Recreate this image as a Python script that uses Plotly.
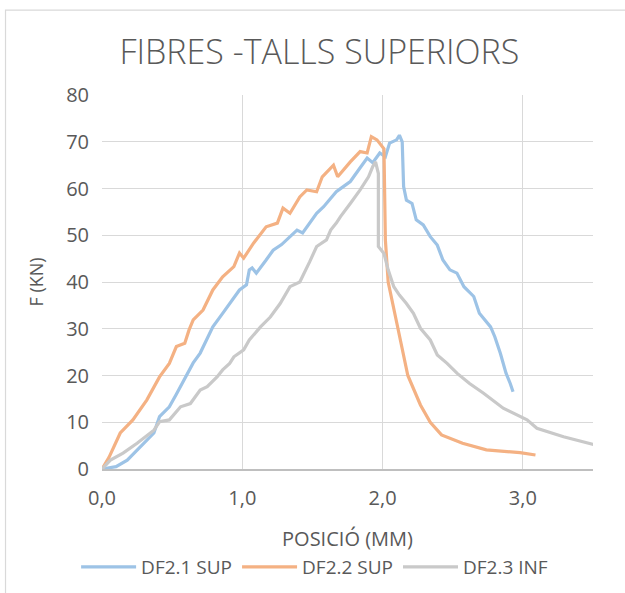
import plotly.graph_objects as go

# ---- data ----
blue_name = "DF2.1 SUP"
blue_x = [0, 0.10, 0.18, 0.25, 0.31, 0.37, 0.41, 0.48, 0.53, 0.56, 0.60, 0.65, 0.70, 0.75, 0.79, 0.86,
          0.91, 0.98, 1.03, 1.05, 1.07, 1.10, 1.17, 1.22, 1.28, 1.34, 1.39, 1.43, 1.48, 1.53, 1.58, 1.60,
          1.67, 1.72, 1.77, 1.83, 1.89, 1.93, 1.98, 2.02, 2.05, 2.10, 2.12, 2.14, 2.15, 2.17, 2.21, 2.24,
          2.29, 2.34, 2.39, 2.43, 2.48, 2.53, 2.58, 2.65, 2.69, 2.77, 2.80, 2.84, 2.88, 2.91, 2.93]
blue_y = [0, 0.5, 1.9, 4.1, 5.8, 7.7, 11.2, 13.3, 16.0, 17.6, 19.7, 22.7, 24.8, 28.0, 30.4, 33.3,
          35.5, 38.3, 39.4, 42.6, 43.0, 41.9, 44.7, 46.8, 48.0, 49.7, 51.1, 50.5, 52.6, 54.7, 56.1, 56.8,
          59.3, 60.4, 61.5, 64.0, 66.5, 65.5, 67.6, 66.8, 69.7, 70.4, 71.4, 70.0, 60.4, 57.5, 56.8, 53.3,
          52.2, 49.7, 47.9, 44.7, 42.6, 41.9, 39.0, 36.9, 33.3, 30.4, 28.3, 24.7, 20.5, 18.3, 16.5]

orange_name = "DF2.2 SUP"
orange_x = [0, 0.05, 0.13, 0.22, 0.32, 0.41, 0.48, 0.53, 0.59, 0.62, 0.65, 0.72, 0.79, 0.86, 0.94, 0.98,
            1.01, 1.08, 1.17, 1.25, 1.29, 1.34, 1.41, 1.46, 1.53, 1.57, 1.65, 1.68, 1.77, 1.84, 1.89, 1.92,
            1.96, 1.99, 2.01, 2.02, 2.04, 2.11, 2.18, 2.27, 2.34, 2.42, 2.57, 2.74, 2.98, 3.09]
orange_y = [0, 2.5, 7.7, 10.5, 14.8, 19.7, 22.6, 26.2, 26.9, 29.7, 31.9, 34.0, 38.3, 41.1, 43.3, 46.2,
            45.1, 48.3, 51.8, 52.6, 55.8, 54.7, 58.2, 59.7, 59.3, 62.5, 65.0, 62.5, 65.7, 67.9, 67.6, 71.1,
            70.4, 69.3, 68.5, 49.0, 40.0, 30.0, 20.0, 13.7, 10.0, 7.3, 5.5, 4.1, 3.5, 3.0]

gray_name = "DF2.3 INF"
gray_x = [0, 0.06, 0.15, 0.25, 0.37, 0.41, 0.48, 0.56, 0.63, 0.70, 0.75, 0.82, 0.86, 0.91, 0.94, 1.01,
          1.05, 1.13, 1.20, 1.27, 1.34, 1.41, 1.48, 1.53, 1.60, 1.63, 1.67, 1.70, 1.77, 1.84, 1.90, 1.93,
          1.95, 1.97, 1.97, 1.97, 2.01, 2.04, 2.08, 2.12, 2.17, 2.22, 2.27, 2.34, 2.39, 2.46, 2.53, 2.62,
          2.72, 2.86, 3.03, 3.10, 3.29, 3.52]
gray_y = [0, 1.9, 3.4, 5.5, 8.3, 10.1, 10.5, 13.3, 14.0, 16.9, 17.6, 19.7, 21.2, 22.6, 24.0, 25.5,
          27.6, 30.4, 32.5, 35.4, 39.0, 40.0, 44.3, 47.6, 49.0, 51.1, 52.6, 54.0, 56.8, 59.7, 62.5, 64.7,
          65.7, 63.2, 53.3, 47.6, 46.1, 42.6, 39.0, 37.2, 35.4, 33.3, 30.1, 27.6, 24.4, 22.6, 20.5, 18.3,
          16.2, 13.0, 10.5, 8.7, 6.9, 5.1]

x_tickvals = [0, 1, 2, 3]
x_ticktext = ["0,0", "1,0", "2,0", "3,0"]
y_tickvals = [0, 10, 20, 30, 40, 50, 60, 70, 80]

title_text = "FIBRES -TALLS SUPERIORS"
x_title = "POSICIÓ (MM)"
y_title = "F (KN)"

FONT = "Open Sans"
TXT = "#595959"

fig = go.Figure()
for nm, xs, ys, col in [(blue_name, blue_x, blue_y, "#9DC3E6"),
                        (orange_name, orange_x, orange_y, "#F4B183"),
                        (gray_name, gray_x, gray_y, "#C9C9C9")]:
    fig.add_trace(go.Scatter(x=xs, y=ys, name=nm, mode="lines",
                             line=dict(color=col, width=3.2, shape="linear")))

fig.update_layout(
    width=625, height=593,
    margin=dict(l=102, r=32, t=95, b=124, autoexpand=False),
    paper_bgcolor="white", plot_bgcolor="white",
    font=dict(family=FONT, color=TXT),
    title=dict(text=title_text, x=0.511, xanchor="center", y=0.912, yanchor="middle",
               font=dict(family=FONT, size=34, color=TXT, weight=300)),
    showlegend=True,
    legend=dict(orientation="h", x=0.433, xanchor="center", y=-0.262, yanchor="middle",
                font=dict(family=FONT, size=19, color=TXT), itemwidth=55,
                bgcolor="rgba(0,0,0,0)"),
    xaxis=dict(range=[0, 3.5], tickvals=x_tickvals, ticktext=x_ticktext, automargin=False,
               showgrid=True, gridcolor="#D9D9D9", gridwidth=1,
               showline=True, linecolor="#BFBFBF", linewidth=1.5,
               zeroline=False, ticks="", ticklabelstandoff=10,
               tickfont=dict(size=20, color=TXT),
               title=dict(text=x_title, font=dict(size=20, color=TXT), standoff=22)),
    yaxis=dict(range=[0, 80], tickvals=y_tickvals, automargin=False,
               showgrid=True, gridcolor="#D9D9D9", gridwidth=1,
               showline=False, zeroline=False, ticks="", ticklabelstandoff=12,
               tickfont=dict(size=20, color=TXT),
               title=dict(text=y_title, font=dict(size=18, color=TXT), standoff=17)),
    shapes=[dict(type="rect", xref="paper", yref="paper",
                 x0=-0.1965, x1=1.15, y0=-0.4, y1=1.227,
                 line=dict(color="#D9D9D9", width=1.2), fillcolor="rgba(0,0,0,0)", layer="below")],
)

fig.write_html("out.html")
